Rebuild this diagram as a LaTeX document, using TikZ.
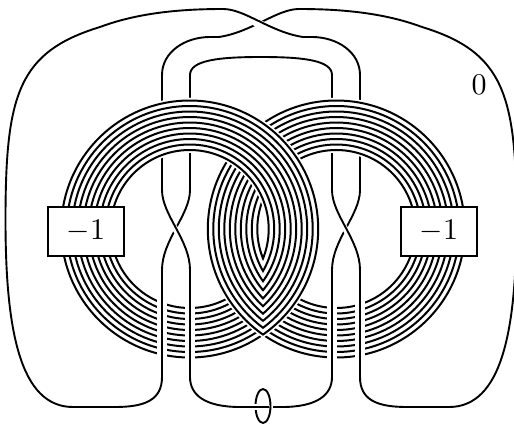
\documentclass[tikz,border=0pt]{standalone}
\usepackage{graphicx}
\tikzset{
  strand/.style={line width=1.9pt,black},
  halo/.style={line width=#1,white},
  coilline/.style={line width=2pt,black},
  framebox/.style={draw=black,line width=2pt,fill=white,minimum width=76pt,minimum height=49pt,inner sep=0pt},
  biglabel/.style={inner sep=0pt}
}
\newcommand{\coilblank}[1]{%
  \draw[white,line width=55pt] (#1,229) circle[radius=103.75pt];
}
\newcommand{\coillines}[1]{%
  \foreach \r in {79,84.5,90,95.5,101,106.5,112,117.5,123,128.5}
    \draw[coilline] (#1,229) circle[radius=\r pt];
}
\begin{document}
\begin{tikzpicture}[x=1pt,y=-1pt]
\useasboundingbox (0,0) rectangle (514,423);
\clip (0,0) rectangle (514,423);
% strand under at the top crossing, with the far right sweep
\draw[strand] (162,190) -- (162,75) .. controls (162,52) and (185,37) .. (210,37) -- (219,37)
  .. controls (252,32) and (277,9) .. (299,9)
  .. controls (337,9) and (382,12) .. (422,27)
  .. controls (504,52) and (516.5,95) .. (516.5,220)
  .. controls (516.5,330) and (502,407) .. (449,407) -- (407,407)
  .. controls (377,407) and (360,400) .. (360,377) -- (360,270);
% strand over at the top crossing, with the far left sweep
\draw[halo=8pt] (240,14) .. controls (250,19) and (270,30) .. (285,35);
\draw[strand] (360,190) -- (360,75) .. controls (360,52) and (337,37) .. (312,37) -- (303,37)
  .. controls (270,32) and (245,9) .. (223,9)
  .. controls (185,9) and (140,12) .. (100,27)
  .. controls (18,52) and (5.5,95) .. (5.5,220)
  .. controls (5.5,330) and (20,407) .. (73,407) -- (115,407)
  .. controls (145,407) and (162,400) .. (162,377) -- (162,270);
% inner arch
\draw[strand] (190,190) -- (190,75) .. controls (190,60) and (220,57) .. (261,57)
  .. controls (302,57) and (332,60) .. (332,75) -- (332,190);
% twists
\draw[strand] (190,190) .. controls (190,215) and (162,240) .. (162,270);
\draw[halo=6pt] (168,218) -- (184,242);
\draw[strand] (162,190) .. controls (162,215) and (190,240) .. (190,270);
\draw[strand] (360,190) .. controls (360,215) and (332,240) .. (332,270);
\draw[halo=6pt] (338,218) -- (354,242);
\draw[strand] (332,190) .. controls (332,215) and (360,240) .. (360,270);
% coils, upper half: the left coil passes over the right one
\coilblank{336.3}
\coillines{336.3}
\coilblank{189.7}
\coillines{189.7}
% coils, lower half: each coil's inner side meets the other's in a row of cusps
\begin{scope}
  \clip (0,229) rectangle (514,423);
  \coilblank{336.3}
  \coilblank{189.7}
  \coillines{336.3}
  \coillines{189.7}
  \begin{scope}
    \clip (0,229) rectangle (263,423);
    \coilblank{336.3}
    \coillines{336.3}
  \end{scope}
  \begin{scope}
    \clip (263,229) rectangle (514,423);
    \coilblank{189.7}
    \coillines{189.7}
  \end{scope}
\end{scope}
% verticals over the coils
\foreach \xx in {162,190,332,360}{
  \draw[halo=9.5pt] (\xx,285) -- (\xx,372);
  \draw[strand] (\xx,270) -- (\xx,377);
}
% small ring and the bottom arc
\draw[strand] (263,406) ellipse[x radius=7.5pt,y radius=17pt];
\draw[halo=6pt] (240,407) -- (269,407);
\draw[strand] (190,377) .. controls (190,395) and (205,407) .. (240,407) -- (269,407);
\draw[strand] (273,407) -- (282,407) .. controls (317,407) and (332,395) .. (332,377);
% boxes and labels
\node[framebox] (boxl) at (86,231) {\scalebox{3}{$-1$}};
\node[framebox] (boxr) at (439,231) {\scalebox{3}{$-1$}};
\node[biglabel] (zero) at (479,85) {\scalebox{3}{$0$}};
\end{tikzpicture}
\end{document}
